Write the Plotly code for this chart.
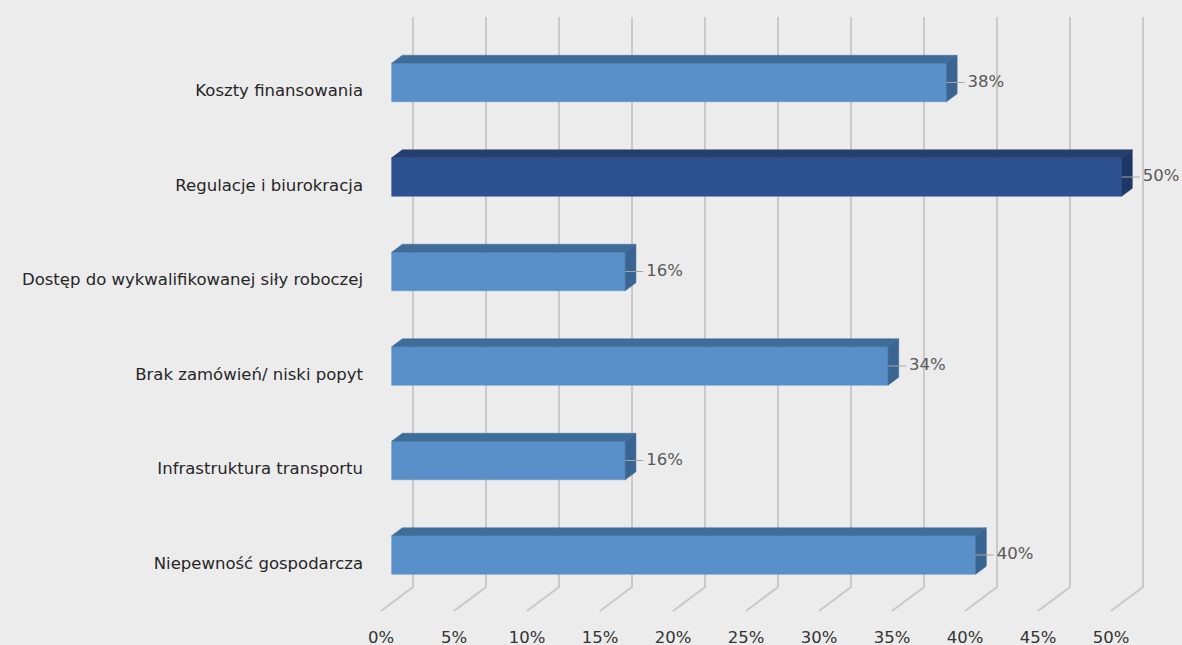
import plotly.graph_objects as go

# Survey results: share of firms naming each barrier
categories = [
    "Koszty finansowania",
    "Regulacje i biurokracja",
    "Dostęp do wykwalifikowanej siły roboczej",
    "Brak zamówień/ niski popyt",
    "Infrastruktura transportu",
    "Niepewność gospodarcza",
]
values = [38, 50, 16, 34, 16, 40]
highlighted = "Regulacje i biurokracja"

tick_values = list(range(0, 55, 5))
tick_labels = [f"{t}%" for t in tick_values]

# Page geometry (pixels) used to set up the axes
W, H = 1182, 645
PX_PER_PCT = 14.6          # horizontal pixels per percentage point
ROW_PX = 94.5              # vertical pixels between category rows
ROW0_PX = 82.5             # screen y of the first row's front-face centre
LEFT_PX, BOTTOM_PX = 370, 622
FLOOR_FRONT_X0 = 381       # screen x where the 0% floor line meets the front

# 3-D depth offsets in data units (full depth of the plot box)
DEPTH_X = 32 / PX_PER_PCT
DEPTH_Y = 24 / ROW_PX
BAR_H = 38.5 / ROW_PX

x_min = (LEFT_PX - FLOOR_FRONT_X0) / PX_PER_PCT
x_max = x_min + (W - LEFT_PX) / PX_PER_PCT
y_top = -ROW0_PX / ROW_PX
y_bottom = (BOTTOM_PX - ROW0_PX) / ROW_PX

wall_top = (17 - ROW0_PX) / ROW_PX
floor_front = (611 - ROW0_PX) / ROW_PX
floor_back = floor_front - DEPTH_Y

GRID = "#c9c9c9"
BG = "#ececec"
FONT = "DejaVu Sans"
LIGHT = dict(front="#5a90c9", top="#3f6d99", side="#3a6593")
DARK = dict(front="#2d5190", top="#243f6e", side="#1f3764")

fig = go.Figure()

# back-wall gridlines that fold onto the floor
for t in tick_values:
    fig.add_trace(go.Scatter(
        x=[t + DEPTH_X, t + DEPTH_X, t],
        y=[wall_top, floor_back, floor_front],
        mode="lines", line=dict(color=GRID, width=2),
        hoverinfo="skip", showlegend=False,
    ))


def poly(xs, ys, color):
    fig.add_trace(go.Scatter(
        x=xs + xs[:1], y=ys + ys[:1], mode="lines", fill="toself",
        fillcolor=color, line=dict(color=color, width=0.5),
        hoverinfo="skip", showlegend=False,
    ))


# bars sit in the middle third of the depth
dx, dy = DEPTH_X / 3, DEPTH_Y / 3
for i, (cat, v) in enumerate(zip(categories, values)):
    pal = DARK if cat == highlighted else LIGHT
    xa, xb = dx, v + dx
    yt, yb = i - BAR_H / 2, i + BAR_H / 2
    poly([xa, xb, xb, xa], [yt, yt, yb, yb], pal["front"])
    poly([xa, xb, xb + dx, xa + dx], [yt, yt, yt - dy, yt - dy], pal["top"])
    poly([xb, xb + dx, xb + dx, xb], [yt, yt - dy, yb - dy, yb], pal["side"])
    # leader line and value label
    fig.add_trace(go.Scatter(
        x=[xb, xb + 18 / PX_PER_PCT], y=[i, i], mode="lines",
        line=dict(color="#a6a6a6", width=1), hoverinfo="skip", showlegend=False,
    ))
    fig.add_trace(go.Scatter(
        x=[xb + 21 / PX_PER_PCT], y=[i], mode="text", text=[f"{v}%"],
        textposition="middle right", cliponaxis=False,
        textfont=dict(family=FONT, size=16.5, color="#595959"),
        hoverinfo="skip", showlegend=False,
    ))

# category labels line up with the front edge of the floor
label_pos = [i + dy for i in range(len(categories))]

fig.update_layout(
    width=W, height=H,
    margin=dict(l=LEFT_PX, r=0, t=0, b=H - BOTTOM_PX, autoexpand=False),
    paper_bgcolor=BG, plot_bgcolor=BG,
    font=dict(family=FONT, size=16.5, color="#262626"),
    xaxis=dict(
        range=[x_min, x_max], tickvals=tick_values, ticktext=tick_labels,
        showgrid=False, zeroline=False, showline=False, ticks="",
        ticklabelstandoff=3,
        tickfont=dict(family=FONT, size=16.5, color="#333333"), automargin=False,
    ),
    yaxis=dict(
        range=[y_bottom, y_top], tickvals=label_pos,
        ticktext=categories, showgrid=False, zeroline=False, showline=False,
        ticks="", ticklabelstandoff=6,
        tickfont=dict(family=FONT, size=16.5, color="#262626"), automargin=False,
    ),
)

fig.write_html("out.html")
